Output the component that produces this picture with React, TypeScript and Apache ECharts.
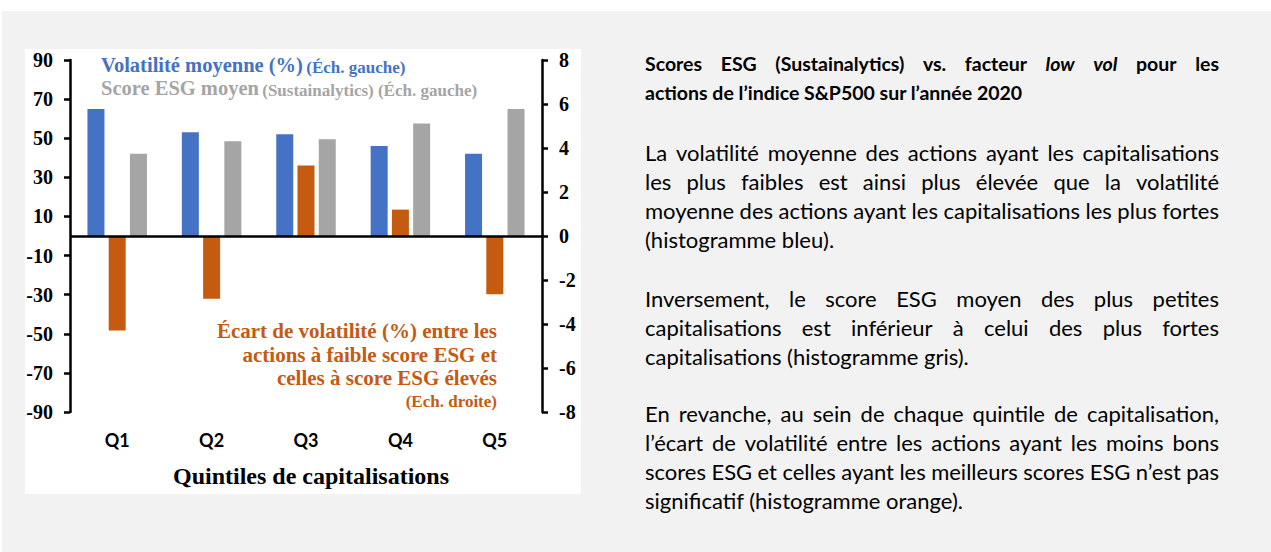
import React, { useEffect, useRef } from "react";
import * as echarts from "echarts";

// ---------- data ----------
const categories = ["Q1", "Q2", "Q3", "Q4", "Q5"];
const volatility = [65, 53, 52, 46, 42]; // left axis
const esgScore = [42, 48.5, 49.5, 57.5, 65]; // left axis
const volGap = [-4.3, -2.85, 3.2, 1.2, -2.65]; // right axis

const leftMin = -90;
const leftMax = 90;
const leftInterval = 20;
const rightMin = -8;
const rightMax = 8;
const rightInterval = 2;

const legendVol = "Volatilité moyenne (%)";
const legendVolSub = "(Éch. gauche)";
const legendEsg = "Score ESG moyen";
const legendEsgSub = "(Sustainalytics) (Éch. gauche)";
const gapLabel = [
  "Écart de volatilité (%) entre les",
  "actions à faible score ESG et",
  "celles à score ESG élevés",
];
const gapLabelSub = "(Ech. droite)";
const xAxisTitle = "Quintiles de capitalisations";

const titleWords1 = ["Scores", "ESG", "(Sustainalytics)", "vs.", "facteur", "low", "vol", "pour", "les"];
const titleItalic = ["low", "vol"];
const titleLine2 = "actions de l’indice S&P500 sur l’année 2020";
const paragraphs = [
  [
    "La volatilité moyenne des actions ayant les capitalisations",
    "les plus faibles est ainsi plus élevée que la volatilité",
    "moyenne des actions ayant les capitalisations les plus fortes",
    "(histogramme bleu).",
  ],
  [
    "Inversement, le score ESG moyen des plus petites",
    "capitalisations est inférieur à celui des plus fortes",
    "capitalisations (histogramme gris).",
  ],
  [
    "En revanche, au sein de chaque quintile de capitalisation,",
    "l’écart de volatilité entre les actions ayant les moins bons",
    "scores ESG et celles ayant les meilleurs scores ESG n’est pas",
    "significatif (histogramme orange).",
  ],
];

const BLUE = "#4472C4";
const ORANGE = "#C55A11";
const GRAY = "#A5A5A5";
const SERIF = "Liberation Serif";
const SANS = "Lato";

// ---------- text helpers ----------
const cv = typeof document !== "undefined" ? document.createElement("canvas") : null;
const ctx = cv ? cv.getContext("2d") : null;
function tw(text: string, size: number, weight = "normal", style = "normal", family = SANS) {
  if (!ctx) return text.length * size * 0.5;
  ctx.font = `${style} ${weight} ${size}px ${family}`;
  return ctx.measureText(text).width;
}

const TX0 = 645;
const TX1 = 1219;
const BODY_SIZE = 22;
const TITLE_SIZE = 19.5;

function txt(text: string, x: number, y: number, size: number, weight: string, style = "normal", extra: any = {}) {
  return {
    type: "text",
    x,
    y,
    z: 10,
    silent: true,
    style: {
      text,
      fill: "#000",
      fontSize: size,
      fontFamily: SANS,
      fontWeight: weight,
      fontStyle: style,
      align: "left",
      verticalAlign: "middle",
      ...extra,
    },
  };
}

function justified(words: string[], y: number, size: number, weight: string, italics: string[] = []) {
  const widths = words.map((w) => tw(w, size, weight, italics.includes(w) ? "italic" : "normal"));
  const total = widths.reduce((a, b) => a + b, 0);
  const gap = Math.max(3, (TX1 - TX0 - total) / (words.length - 1));
  const els: any[] = [];
  let x = TX0;
  words.forEach((w, i) => {
    els.push(txt(w, x, y, size, weight, italics.includes(w) ? "italic" : "normal"));
    x += widths[i] + gap;
  });
  return els;
}

function buildRightText() {
  const els: any[] = [];
  els.push(...justified(titleWords1, 63, TITLE_SIZE, "bold", titleItalic));
  els.push(txt(titleLine2, TX0, 92, TITLE_SIZE, "bold"));
  const starts = [152, 298, 413];
  paragraphs.forEach((lines, p) => {
    lines.forEach((line, i) => {
      const y = starts[p] + i * 29;
      if (i < lines.length - 1) els.push(...justified(line.split(" "), y, BODY_SIZE, "normal"));
      else els.push(txt(line, TX0, y, BODY_SIZE, "normal"));
    });
  });
  return els;
}

export default function App() {
  const ref = useRef<HTMLDivElement>(null);
  useEffect(() => {
    if (!ref.current) return;
    const chart = echarts.init(ref.current, null, { renderer: "svg" });

    const serifBold = (size: number, color: string) => ({
      fontFamily: SERIF,
      fontWeight: "bold",
      fontSize: size,
      fill: color,
    });

    const graphic: any[] = [
      { type: "rect", z: -10, silent: true, shape: { x: 2, y: 11, width: 1269, height: 541 }, style: { fill: "#F2F2F2" } },
      { type: "rect", z: -9, silent: true, shape: { x: 25, y: 49, width: 556, height: 445 }, style: { fill: "#FFFFFF" } },
      {
        type: "text",
        x: 101,
        y: 65,
        z: 10,
        silent: true,
        style: {
          text: `{a|${legendVol}} {b|${legendVolSub}}`,
          verticalAlign: "middle",
          rich: {
            a: { ...serifBold(20.5, BLUE), verticalAlign: "bottom" },
            b: { ...serifBold(17, BLUE), verticalAlign: "bottom" },
          },
        },
      },
      {
        type: "text",
        x: 101,
        y: 88,
        z: 10,
        silent: true,
        style: {
          text: `{a|${legendEsg}} {b|${legendEsgSub}}`,
          verticalAlign: "middle",
          rich: {
            a: { ...serifBold(20.5, GRAY), verticalAlign: "bottom" },
            b: { ...serifBold(17, GRAY), verticalAlign: "bottom" },
          },
        },
      },
      ...gapLabel.map((t, i) => ({
        type: "text",
        x: 497,
        y: 331 + i * 23.5,
        z: 10,
        silent: true,
        style: { text: t, ...serifBold(21, ORANGE), align: "right", verticalAlign: "middle" },
      })),
      {
        type: "text",
        x: 497,
        y: 401,
        z: 10,
        silent: true,
        style: { text: gapLabelSub, ...serifBold(17, ORANGE), align: "right", verticalAlign: "middle" },
      },
      {
        type: "text",
        x: 311,
        y: 476,
        z: 10,
        silent: true,
        style: { text: xAxisTitle, ...serifBold(24, "#000"), align: "center", verticalAlign: "middle" },
      },
      ...buildRightText(),
    ];

    const axisCommon = {
      type: "value",
      splitLine: { show: false },
      axisLine: { show: true, lineStyle: { color: "#000", width: 2.5 } },
      axisTick: { show: true, length: 6, lineStyle: { color: "#000", width: 2.5 } },
      axisLabel: {
        fontFamily: SERIF,
        fontWeight: "bold",
        fontSize: 20,
        color: "#000",
        margin: 17,
      },
    };

    chart.setOption({
      animation: false,
      backgroundColor: "#FFFFFF",
      grid: { left: 70, right: 729, top: 60, bottom: 140, containLabel: false },
      xAxis: {
        type: "category",
        data: categories,
        axisLine: { show: false },
        axisTick: { show: false },
        axisLabel: {
          fontFamily: SANS,
          fontWeight: "bold",
          fontSize: 18,
          color: "#000",
          margin: 19,
        },
      },
      yAxis: [
        { ...axisCommon, min: leftMin, max: leftMax, interval: leftInterval, position: "left" },
        { ...axisCommon, min: rightMin, max: rightMax, interval: rightInterval, position: "right" },
      ],
      series: [
        {
          name: legendVol,
          type: "bar",
          yAxisIndex: 0,
          data: volatility,
          barWidth: 17,
          barGap: "25%",
          itemStyle: { color: BLUE },
        },
        {
          name: "Écart de volatilité",
          type: "bar",
          yAxisIndex: 1,
          data: volGap,
          barWidth: 17,
          barGap: "25%",
          itemStyle: { color: ORANGE },
        },
        {
          name: legendEsg,
          type: "bar",
          yAxisIndex: 0,
          data: esgScore,
          barWidth: 17,
          barGap: "25%",
          itemStyle: { color: GRAY },
          markLine: {
            silent: true,
            symbol: "none",
            label: { show: false },
            lineStyle: { color: "#000", width: 2.5, type: "solid" },
            data: [{ yAxis: 0 }],
          },
        },
      ],
      graphic,
    });

    return () => chart.dispose();
  }, []);

  return (
    <div
      ref={ref}
      style={{ position: "absolute", left: 0, top: 0, width: 1271, height: 552 }}
    />
  );
}
